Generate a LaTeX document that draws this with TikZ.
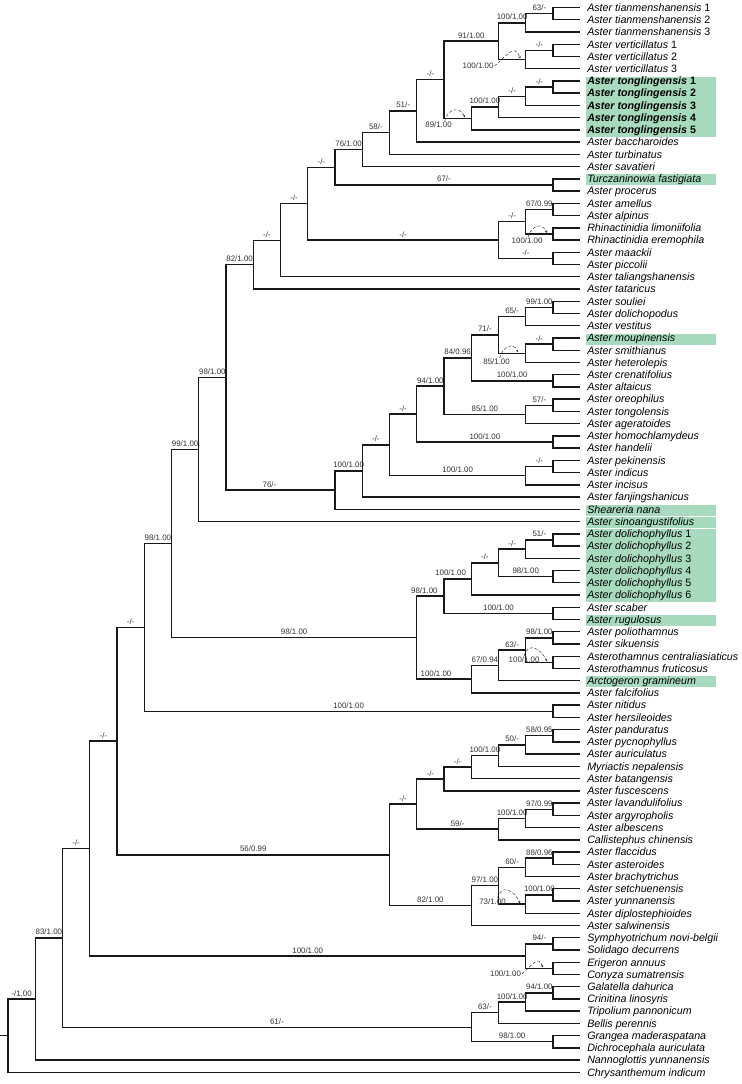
\documentclass[tikz,border=0pt]{standalone}
\usepackage{fontspec}
\setmainfont{Liberation Sans}
\usetikzlibrary{arrows.meta}
\definecolor{cladeGreen}{RGB}{168,218,190}
\definecolor{branchGray}{RGB}{25,25,25}
\definecolor{supGray}{RGB}{50,50,50}
\tikzset{
  br/.style={line width=1.4pt, draw=branchGray},
  leaf/.style={anchor=west, inner xsep=6.8pt, inner ysep=0pt, text height=7.6pt, text depth=0pt, font=\fontsize{10.7}{12}\selectfont\itshape},
  bsup/.style={anchor=base, yshift=3pt, inner sep=0pt, text=supGray, font=\fontsize{7.9}{9}\selectfont},
  supl/.style={inner sep=0.8pt, text=supGray, font=\fontsize{7.9}{9}\selectfont},
  dsh/.style={densely dashed, line width=0.5pt, draw=supGray, -{Stealth[length=2.6pt,width=2.4pt]}}
}
\begin{document}
\begin{tikzpicture}[x=27.25pt, y=-12.24pt]
\useasboundingbox (-0.2936,0.3873) rectangle (26.936,88.95);

\fill[cladeGreen] (21.21,6.64) rectangle (25.98,11.54);
\fill[cladeGreen] (21.21,14.64) rectangle (25.98,15.54);
\fill[cladeGreen] (21.21,27.64) rectangle (25.98,28.54);
\fill[cladeGreen] (21.21,41.64) rectangle (25.98,42.54);
\fill[cladeGreen] (21.21,42.64) rectangle (25.98,43.54);
\fill[cladeGreen] (21.21,43.64) rectangle (25.98,49.54);
\fill[cladeGreen] (21.21,50.64) rectangle (25.98,51.54);
\fill[cladeGreen] (21.21,55.64) rectangle (25.98,56.54);

\node[leaf] (t1) at (21,1) {Aster tianmenshanensis \textup{1}};
\node[leaf] (t2) at (21,2) {Aster tianmenshanensis \textup{2}};
\node[leaf] (t3) at (21,3) {Aster tianmenshanensis \textup{3}};
\node[leaf] (t4) at (21,4) {Aster verticillatus \textup{1}};
\node[leaf] (t5) at (21,5) {Aster verticillatus \textup{2}};
\node[leaf] (t6) at (21,6) {Aster verticillatus \textup{3}};
\node[leaf] (t7) at (21,7) {\bfseries Aster tonglingensis \textup{1}};
\node[leaf] (t8) at (21,8) {\bfseries Aster tonglingensis \textup{2}};
\node[leaf] (t9) at (21,9) {\bfseries Aster tonglingensis \textup{3}};
\node[leaf] (t10) at (21,10) {\bfseries Aster tonglingensis \textup{4}};
\node[leaf] (t11) at (21,11) {\bfseries Aster tonglingensis \textup{5}};
\node[leaf] (t12) at (21,12) {Aster baccharoides};
\node[leaf] (t13) at (21,13) {Aster turbinatus};
\node[leaf] (t14) at (21,14) {Aster savatieri};
\node[leaf] (t15) at (21,15) {Turczaninowia fastigiata};
\node[leaf] (t16) at (21,16) {Aster procerus};
\node[leaf] (t17) at (21,17) {Aster amellus};
\node[leaf] (t18) at (21,18) {Aster alpinus};
\node[leaf] (t19) at (21,19) {Rhinactinidia limoniifolia};
\node[leaf] (t20) at (21,20) {Rhinactinidia eremophila};
\node[leaf] (t21) at (21,21) {Aster maackii};
\node[leaf] (t22) at (21,22) {Aster piccolii};
\node[leaf] (t23) at (21,23) {Aster taliangshanensis};
\node[leaf] (t24) at (21,24) {Aster tataricus};
\node[leaf] (t25) at (21,25) {Aster souliei};
\node[leaf] (t26) at (21,26) {Aster dolichopodus};
\node[leaf] (t27) at (21,27) {Aster vestitus};
\node[leaf] (t28) at (21,28) {Aster moupinensis};
\node[leaf] (t29) at (21,29) {Aster smithianus};
\node[leaf] (t30) at (21,30) {Aster heterolepis};
\node[leaf] (t31) at (21,31) {Aster crenatifolius};
\node[leaf] (t32) at (21,32) {Aster altaicus};
\node[leaf] (t33) at (21,33) {Aster oreophilus};
\node[leaf] (t34) at (21,34) {Aster tongolensis};
\node[leaf] (t35) at (21,35) {Aster ageratoides};
\node[leaf] (t36) at (21,36) {Aster homochlamydeus};
\node[leaf] (t37) at (21,37) {Aster handelii};
\node[leaf] (t38) at (21,38) {Aster pekinensis};
\node[leaf] (t39) at (21,39) {Aster indicus};
\node[leaf] (t40) at (21,40) {Aster incisus};
\node[leaf] (t41) at (21,41) {Aster fanjingshanicus};
\node[leaf] (t42) at (21,42) {Sheareria nana};
\node[leaf] (t43) at (21,43) {Aster sinoangustifolius};
\node[leaf] (t44) at (21,44) {Aster dolichophyllus \textup{1}};
\node[leaf] (t45) at (21,45) {Aster dolichophyllus \textup{2}};
\node[leaf] (t46) at (21,46) {Aster dolichophyllus \textup{3}};
\node[leaf] (t47) at (21,47) {Aster dolichophyllus \textup{4}};
\node[leaf] (t48) at (21,48) {Aster dolichophyllus \textup{5}};
\node[leaf] (t49) at (21,49) {Aster dolichophyllus \textup{6}};
\node[leaf] (t50) at (21,50) {Aster scaber};
\node[leaf] (t51) at (21,51) {Aster rugulosus};
\node[leaf] (t52) at (21,52) {Aster poliothamnus};
\node[leaf] (t53) at (21,53) {Aster sikuensis};
\node[leaf] (t54) at (21,54) {Asterothamnus centraliasiaticus};
\node[leaf] (t55) at (21,55) {Asterothamnus fruticosus};
\node[leaf] (t56) at (21,56) {Arctogeron gramineum};
\node[leaf] (t57) at (21,57) {Aster falcifolius};
\node[leaf] (t58) at (21,58) {Aster nitidus};
\node[leaf] (t59) at (21,59) {Aster hersileoides};
\node[leaf] (t60) at (21,60) {Aster panduratus};
\node[leaf] (t61) at (21,61) {Aster pycnophyllus};
\node[leaf] (t62) at (21,62) {Aster auriculatus};
\node[leaf] (t63) at (21,63) {Myriactis nepalensis};
\node[leaf] (t64) at (21,64) {Aster batangensis};
\node[leaf] (t65) at (21,65) {Aster fuscescens};
\node[leaf] (t66) at (21,66) {Aster lavandulifolius};
\node[leaf] (t67) at (21,67) {Aster argyropholis};
\node[leaf] (t68) at (21,68) {Aster albescens};
\node[leaf] (t69) at (21,69) {Callistephus chinensis};
\node[leaf] (t70) at (21,70) {Aster flaccidus};
\node[leaf] (t71) at (21,71) {Aster asteroides};
\node[leaf] (t72) at (21,72) {Aster brachytrichus};
\node[leaf] (t73) at (21,73) {Aster setchuenensis};
\node[leaf] (t74) at (21,74) {Aster yunnanensis};
\node[leaf] (t75) at (21,75) {Aster diplostephioides};
\node[leaf] (t76) at (21,76) {Aster salwinensis};
\node[leaf] (t77) at (21,77) {Symphyotrichum novi-belgii};
\node[leaf] (t78) at (21,78) {Solidago decurrens};
\node[leaf] (t79) at (21,79) {Erigeron annuus};
\node[leaf] (t80) at (21,80) {Conyza sumatrensis};
\node[leaf] (t81) at (21,81) {Galatella dahurica};
\node[leaf] (t82) at (21,82) {Crinitina linosyris};
\node[leaf] (t83) at (21,83) {Tripolium pannonicum};
\node[leaf] (t84) at (21,84) {Bellis perennis};
\node[leaf] (t85) at (21,85) {Grangea maderaspatana};
\node[leaf] (t86) at (21,86) {Dichrocephala auriculata};
\node[leaf] (t87) at (21,87) {Nannoglottis yunnanensis};
\node[leaf] (t88) at (21,88) {Chrysanthemum indicum};

\coordinate (tian12) at (20,1.5);
\coordinate (tian) at (19,2.25);
\coordinate (vert12) at (20,4.5);
\coordinate (vert) at (19,5.25);
\coordinate (tv) at (18,3.75);
\coordinate (tong12) at (20,7.5);
\coordinate (tong13) at (19,8.25);
\coordinate (tong14) at (18,9.125);
\coordinate (tong) at (17,10.0625);
\coordinate (tvt) at (16,6.90625);
\coordinate (bac) at (15,9.453125);
\coordinate (tur) at (14,11.2265625);
\coordinate (sav) at (13,12.61328);
\coordinate (turc) at (20,15.5);
\coordinate (aa) at (12,14.05664);
\coordinate (ame) at (20,17.5);
\coordinate (rhi) at (20,19.5);
\coordinate (amr) at (19,18.5);
\coordinate (maa) at (20,21.5);
\coordinate (amm) at (18,20);
\coordinate (ob) at (11,17.02832);
\coordinate (tal) at (10,20.01416);
\coordinate (tat) at (9,22.00708);
\coordinate (sou) at (20,25.5);
\coordinate (ves) at (19,26.25);
\coordinate (mou) at (20,28.5);
\coordinate (het) at (19,29.25);
\coordinate (svm) at (18,27.75);
\coordinate (cre) at (20,31.5);
\coordinate (svc) at (17,29.625);
\coordinate (ore) at (20,33.5);
\coordinate (age) at (19,34.25);
\coordinate (sva) at (16,31.9375);
\coordinate (hom) at (20,36.5);
\coordinate (svh) at (15,34.21875);
\coordinate (pek) at (20,38.5);
\coordinate (inc) at (19,39.25);
\coordinate (svp) at (14,36.734375);
\coordinate (fan) at (13,38.8671875);
\coordinate (she) at (12,40.43359);
\coordinate (sa) at (8,31.22034);
\coordinate (sin) at (7,37.11017);
\coordinate (dol12) at (20,44.5);
\coordinate (dol13) at (19,45.25);
\coordinate (dol45) at (20,47.5);
\coordinate (dol15) at (18,46.375);
\coordinate (dol) at (17,47.6875);
\coordinate (sca) at (20,50.5);
\coordinate (dsr) at (16,49.09375);
\coordinate (pol) at (20,52.5);
\coordinate (ast) at (20,54.5);
\coordinate (pas) at (19,53.5);
\coordinate (arc) at (18,54.75);
\coordinate (fal) at (17,55.875);
\coordinate (dlf) at (15,52.484375);
\coordinate (sz) at (6,44.79727);
\coordinate (nit) at (20,58.5);
\coordinate (sn) at (5,51.64864);
\coordinate (pan) at (20,60.5);
\coordinate (aur) at (19,61.25);
\coordinate (myr) at (18,62.125);
\coordinate (bat) at (17,63.0625);
\coordinate (fus) at (16,64.03125);
\coordinate (lav) at (20,66.5);
\coordinate (alb) at (19,67.25);
\coordinate (cal) at (18,68.125);
\coordinate (lc) at (15,66.078125);
\coordinate (fla) at (20,70.5);
\coordinate (bra) at (19,71.25);
\coordinate (set) at (20,73.5);
\coordinate (dip) at (19,74.25);
\coordinate (fsd) at (18,72.75);
\coordinate (slw) at (17,74.375);
\coordinate (lcs) at (14,70.2265625);
\coordinate (sl) at (4,60.93763);
\coordinate (sym) at (20,77.5);
\coordinate (eri) at (20,79.5);
\coordinate (sye) at (19,78.5);
\coordinate (slt) at (3,69.71881);
\coordinate (gal) at (20,81.5);
\coordinate (tri) at (19,82.25);
\coordinate (bel) at (18,83.125);
\coordinate (gra) at (20,85.5);
\coordinate (gb) at (17,84.3125);
\coordinate (sg) at (2,77.01566);
\coordinate (nan) at (1,82.00783);
\coordinate (root) at (0,85.00391);
\coordinate (rs) at (-0.2936,85.00391);

\draw[br] (rs) -- (root);
\draw[br] (root) |- node[bsup,pos=0.75] {-/1.00} (nan) (root) |- (t88.west);
\draw[br] (nan) |- node[bsup,pos=0.75] {83/1.00} (sg) (nan) |- (t87.west);
\draw[br] (sg) |- node[bsup,pos=0.75] {-/-} (slt) (sg) |- node[bsup,pos=0.75,xshift=10pt] {61/-} (gb);
\draw[br] (gb) |- node[bsup,pos=0.75] {63/-} (bel) (gb) |- node[bsup,pos=0.75] {98/1.00} (gra);
\draw[br] (gra) |- (t85.west) (gra) |- (t86.west);
\draw[br] (bel) |- node[bsup,pos=0.75] {100/1.00} (tri) (bel) |- (t84.west);
\draw[br] (tri) |- node[bsup,pos=0.75] {94/1.00} (gal) (tri) |- (t83.west);
\draw[br] (gal) |- (t81.west) (gal) |- (t82.west);
\draw[br] (slt) |- node[bsup,pos=0.75] {-/-} (sl) (slt) |- node[bsup,pos=0.75] {100/1.00} (sye);
\draw[br] (sye) |- node[bsup,pos=0.75] {94/-} (sym) (sye) |- (eri);
\draw[br] (sym) |- (t77.west) (sym) |- (t78.west);
\draw[br] (eri) |- (t79.west) (eri) |- (t80.west);
\draw[br] (sl) |- node[bsup,pos=0.75] {-/-} (sn) (sl) |- node[bsup,pos=0.75] {56/0.99} (lcs);
\draw[br] (lcs) |- node[bsup,pos=0.75] {-/-} (lc) (lcs) |- node[bsup,pos=0.75] {82/1.00} (slw);
\draw[br] (slw) |- node[bsup,pos=0.75] {97/1.00} (fsd) (slw) |- (t76.west);
\draw[br] (fsd) |- node[bsup,pos=0.75] {60/-} (bra) (fsd) |- (dip);
\draw[br] (bra) |- node[bsup,pos=0.75] {88/0.96} (fla) (bra) |- (t72.west);
\draw[br] (fla) |- (t70.west) (fla) |- (t71.west);
\draw[br] (dip) |- node[bsup,pos=0.75] {100/1.00} (set) (dip) |- (t75.west);
\draw[br] (set) |- (t73.west) (set) |- (t74.west);
\draw[br] (lc) |- node[bsup,pos=0.75] {-/-} (fus) (lc) |- node[bsup,pos=0.75] {59/-} (cal);
\draw[br] (fus) |- node[bsup,pos=0.75] {-/-} (bat) (fus) |- (t65.west);
\draw[br] (bat) |- node[bsup,pos=0.75] {100/1.00} (myr) (bat) |- (t64.west);
\draw[br] (myr) |- node[bsup,pos=0.75] {50/-} (aur) (myr) |- (t63.west);
\draw[br] (aur) |- node[bsup,pos=0.75] {58/0.95} (pan) (aur) |- (t62.west);
\draw[br] (pan) |- (t60.west) (pan) |- (t61.west);
\draw[br] (cal) |- node[bsup,pos=0.75] {100/1.00} (alb) (cal) |- (t69.west);
\draw[br] (alb) |- node[bsup,pos=0.75] {97/0.99} (lav) (alb) |- (t68.west);
\draw[br] (lav) |- (t66.west) (lav) |- (t67.west);
\draw[br] (sn) |- node[bsup,pos=0.75] {98/1.00} (sz) (sn) |- node[bsup,pos=0.75] {100/1.00} (nit);
\draw[br] (nit) |- (t58.west) (nit) |- (t59.west);
\draw[br] (sz) |- node[bsup,pos=0.75] {99/1.00} (sin) (sz) |- node[bsup,pos=0.75] {98/1.00} (dlf);
\draw[br] (dlf) |- node[bsup,pos=0.75,xshift=-6pt] {98/1.00} (dsr) (dlf) |- node[bsup,pos=0.75,xshift=-8pt] {100/1.00} (fal);
\draw[br] (fal) |- node[bsup,pos=0.75] {67/0.94} (arc) (fal) |- (t57.west);
\draw[br] (arc) |- node[bsup,pos=0.75] {63/-} (pas) (arc) |- (t56.west);
\draw[br] (pas) |- node[bsup,pos=0.75] {98/1.00} (pol) (pas) |- (ast);
\draw[br] (pol) |- (t52.west) (pol) |- (t53.west);
\draw[br] (ast) |- (t54.west) (ast) |- (t55.west);
\draw[br] (dsr) |- node[bsup,pos=0.75,xshift=-7pt] {100/1.00} (dol) (dsr) |- node[bsup,pos=0.75] {100/1.00} (sca);
\draw[br] (sca) |- (t50.west) (sca) |- (t51.west);
\draw[br] (dol) |- node[bsup,pos=0.75] {-/-} (dol15) (dol) |- (t49.west);
\draw[br] (dol15) |- node[bsup,pos=0.75] {-/-} (dol13) (dol15) |- node[bsup,pos=0.75] {98/1.00} (dol45);
\draw[br] (dol13) |- node[bsup,pos=0.75] {51/-} (dol12) (dol13) |- (t46.west);
\draw[br] (dol12) |- (t44.west) (dol12) |- (t45.west);
\draw[br] (dol45) |- (t47.west) (dol45) |- (t48.west);
\draw[br] (sin) |- node[bsup,pos=0.75] {98/1.00} (sa) (sin) |- (t43.west);
\draw[br] (sa) |- node[bsup,pos=0.75] {82/1.00} (tat) (sa) |- node[bsup,pos=0.75,xshift=-11pt] {76/-} (she);
\draw[br] (she) |- node[bsup,pos=0.75] {100/1.00} (fan) (she) |- (t42.west);
\draw[br] (fan) |- node[bsup,pos=0.75] {-/-} (svp) (fan) |- (t41.west);
\draw[br] (svp) |- node[bsup,pos=0.75] {-/-} (svh) (svp) |- node[bsup,pos=0.75] {100/1.00} (inc);
\draw[br] (inc) |- node[bsup,pos=0.75] {-/-} (pek) (inc) |- (t40.west);
\draw[br] (pek) |- (t38.west) (pek) |- (t39.west);
\draw[br] (svh) |- node[bsup,pos=0.75] {94/1.00} (sva) (svh) |- node[bsup,pos=0.75] {100/1.00} (hom);
\draw[br] (hom) |- (t36.west) (hom) |- (t37.west);
\draw[br] (sva) |- node[bsup,pos=0.75] {84/0.96} (svc) (sva) |- node[bsup,pos=0.75] {85/1.00} (age);
\draw[br] (age) |- node[bsup,pos=0.75] {57/-} (ore) (age) |- (t35.west);
\draw[br] (ore) |- (t33.west) (ore) |- (t34.west);
\draw[br] (svc) |- node[bsup,pos=0.75] {71/-} (svm) (svc) |- node[bsup,pos=0.75] {100/1.00} (cre);
\draw[br] (cre) |- (t31.west) (cre) |- (t32.west);
\draw[br] (svm) |- node[bsup,pos=0.75] {65/-} (ves) (svm) |- (het);
\draw[br] (ves) |- node[bsup,pos=0.75] {99/1.00} (sou) (ves) |- (t27.west);
\draw[br] (sou) |- (t25.west) (sou) |- (t26.west);
\draw[br] (het) |- node[bsup,pos=0.75] {-/-} (mou) (het) |- (t30.west);
\draw[br] (mou) |- (t28.west) (mou) |- (t29.west);
\draw[br] (tat) |- node[bsup,pos=0.75] {-/-} (tal) (tat) |- (t24.west);
\draw[br] (tal) |- node[bsup,pos=0.75] {-/-} (ob) (tal) |- (t23.west);
\draw[br] (ob) |- node[bsup,pos=0.75] {-/-} (aa) (ob) |- node[bsup,pos=0.75] {-/-} (amm);
\draw[br] (amm) |- node[bsup,pos=0.75] {-/-} (amr) (amm) |- node[bsup,pos=0.75] {-/-} (maa);
\draw[br] (maa) |- (t21.west) (maa) |- (t22.west);
\draw[br] (amr) |- node[bsup,pos=0.75] {67/0.99} (ame) (amr) |- (rhi);
\draw[br] (ame) |- (t17.west) (ame) |- (t18.west);
\draw[br] (rhi) |- (t19.west) (rhi) |- (t20.west);
\draw[br] (aa) |- node[bsup,pos=0.75] {76/1.00} (sav) (aa) |- node[bsup,pos=0.75] {67/-} (turc);
\draw[br] (turc) |- (t15.west) (turc) |- (t16.west);
\draw[br] (sav) |- node[bsup,pos=0.75] {58/-} (tur) (sav) |- (t14.west);
\draw[br] (tur) |- node[bsup,pos=0.75] {51/-} (bac) (tur) |- (t13.west);
\draw[br] (bac) |- node[bsup,pos=0.75] {-/-} (tvt) (bac) |- (t12.west);
\draw[br] (tvt) |- node[bsup,pos=0.75] {91/1.00} (tv) (tvt) |- (tong);
\draw[br] (tv) |- node[bsup,pos=0.75] {100/1.00} (tian) (tv) |- (vert);
\draw[br] (tian) |- node[bsup,pos=0.75] {63/-} (tian12) (tian) |- (t3.west);
\draw[br] (tian12) |- (t1.west) (tian12) |- (t2.west);
\draw[br] (vert) |- node[bsup,pos=0.75] {-/-} (vert12) (vert) |- (t6.west);
\draw[br] (vert12) |- (t4.west) (vert12) |- (t5.west);
\draw[br] (tong) |- node[bsup,pos=0.75] {100/1.00} (tong14) (tong) |- (t11.west);
\draw[br] (tong14) |- node[bsup,pos=0.75] {-/-} (tong13) (tong14) |- (t10.west);
\draw[br] (tong13) |- node[bsup,pos=0.75] {-/-} (tong12) (tong13) |- (t9.west);
\draw[br] (tong12) |- (t7.west) (tong12) |- (t8.west);

\node[supl] (lvert) at (17.25,5.78) {100/1.00};
\coordinate (avert) at (18.8,5.18);
\draw[dsh] (lvert.east) to[out=40,in=110,looseness=1.6] (avert);
\node[supl] (ltong) at (15.8,10.6) {89/1.00};
\coordinate (atong) at (16.77,9.98);
\draw[dsh] ([xshift=6pt]ltong.north) to[out=75,in=115,looseness=1.6] (atong);
\node[supl] (lrhi) at (19.05,20.08) {100/1.00};
\coordinate (arhi) at (19.78,19.42);
\draw[dsh] ([xshift=1pt]lrhi.north) to[out=75,in=115,looseness=1.6] (arhi);
\node[supl] (lhet) at (17.93,29.96) {85/1.00};
\coordinate (ahet) at (18.72,29.18);
\draw[dsh] ([xshift=3pt]lhet.north) to[out=75,in=115,looseness=1.6] (ahet);
\node[supl] (last) at (18.94,54.29) {100/1.00};
\coordinate (aast) at (19.78,54.43);
\draw[dsh] (last.north) to[out=75,in=115,looseness=1.6] (aast);
\node[supl] (ldip) at (17.78,74.06) {73/1.00};
\coordinate (adip) at (18.79,74.18);
\draw[dsh] ([xshift=5pt]ldip.north) to[out=75,in=115,looseness=1.6] (adip);
\node[supl] (leri) at (18.26,79.96) {100/1.00};
\coordinate (aeri) at (19.63,79.43);
\draw[dsh] (leri.east) to[out=40,in=110,looseness=1.6] (aeri);
\end{tikzpicture}
\end{document}
